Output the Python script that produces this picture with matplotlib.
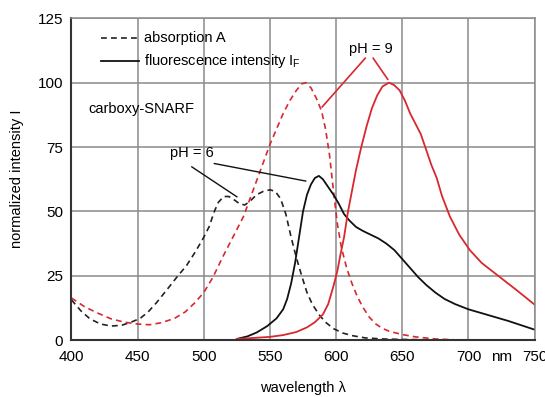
import matplotlib
matplotlib.use("Agg")
import matplotlib.pyplot as plt

plt.rcParams['font.family'] = ['Liberation Sans', 'DejaVu Sans']

RED = "#d8282f"

# absorption, pH 6 (black dashed)
abs6_x = [400, 407, 414, 422, 430, 438, 446, 452, 458, 464, 472, 480, 487, 493, 499,
          504, 508, 511, 515, 519, 523, 527, 531, 535, 540, 545, 550, 554, 558, 562,
          566, 570, 574, 578, 582, 587, 592, 598, 605, 612, 622, 635, 650, 700]
abs6_y = [15.7, 11.5, 8.3, 6.3, 5.5, 5.8, 7.2, 8.5, 11.0, 14.4, 19.5, 24.7, 29.0, 33.8, 39.0,
          44.0, 50.0, 53.5, 55.8, 55.8, 54.5, 53.0, 52.5, 54.0, 56.5, 57.8, 58.4, 57.8, 55.0, 49.0,
          40.0, 32.0, 25.0, 18.5, 14.0, 10.0, 7.0, 4.5, 2.8, 1.8, 0.9, 0.5, 0.3, 0.0]

# absorption, pH 9 (red dashed)
abs9_x = [400, 410, 420, 430, 440, 450, 459, 468, 478, 486, 493, 500, 507, 514, 520,
          525, 530, 535, 540, 545, 550, 555, 560, 565, 570, 574, 577, 581, 585, 589,
          592, 595, 598, 601, 604, 608, 612, 616, 620, 625, 630, 635, 640, 650, 660,
          675, 696]
abs9_y = [16.4, 13.0, 10.5, 8.3, 7.0, 6.3, 6.0, 6.8, 8.5, 11.0, 14.4, 18.5, 24.5, 32.0, 38.0,
          43.0, 48.0, 55.0, 62.0, 69.0, 76.0, 82.0, 88.0, 93.0, 97.0, 99.5, 100.0, 98.0, 94.0, 89.0,
          82.0, 72.0, 58.0, 45.0, 36.0, 28.0, 22.0, 17.0, 13.0, 9.0, 6.3, 4.6, 3.5, 2.2, 1.3,
          0.5, 0.0]

# fluorescence, pH 6 (black solid)
fl6_x = [525, 533, 540, 548, 555, 560, 563, 566, 569, 572, 575, 578, 581, 584, 587,
         590, 594, 598, 602, 606, 610, 615, 620, 626, 632, 638, 644, 650, 656, 662,
         668, 675, 682, 690, 700, 710, 720, 730, 740, 750]
fl6_y = [0.5, 1.5, 3.0, 5.5, 8.5, 12.0, 16.0, 22.0, 30.0, 40.0, 50.0, 56.5, 60.5, 63.0, 63.8,
         62.5, 59.5, 56.5, 53.0, 49.0, 46.5, 44.0, 42.5, 41.0, 39.5, 37.5, 35.0, 31.5, 28.0, 24.5,
         21.5, 18.5, 16.0, 14.0, 12.0, 10.5, 9.0, 7.5, 5.8, 4.1]

# fluorescence, pH 9 (red solid)
fl9_x = [525, 535, 550, 560, 570, 578, 584, 590, 594, 598, 601, 603, 606, 609, 612,
         615, 619, 623, 627, 631, 635, 640, 644, 648, 652, 656, 660, 664, 668, 672,
         676, 680, 686, 693, 701, 710, 720, 736, 750]
fl9_y = [0.5, 0.8, 1.3, 2.0, 3.2, 5.0, 7.0, 10.0, 14.0, 21.0, 27.0, 32.5, 40.0, 50.0, 58.0,
         66.0, 75.0, 83.0, 90.0, 95.0, 98.5, 100.0, 99.0, 97.0, 93.0, 88.0, 84.0, 80.0, 74.0, 68.0,
         63.0, 56.0, 48.0, 41.0, 35.0, 30.0, 26.0, 19.6, 13.8]

x_ticks = [400, 450, 500, 550, 600, 650, 700, 750]
y_ticks = [0, 25, 50, 75, 100, 125]

fig = plt.figure(figsize=(5.45, 3.97), dpi=100)
ax = fig.add_axes([0.131, 0.143, 0.850, 0.811])

dash = (0, (3.5, 2.5))
ax.plot(abs6_x, abs6_y, color="#222222", lw=1.2, linestyle=dash)
ax.plot(abs9_x, abs9_y, color=RED, lw=1.2, linestyle=dash)
ax.plot(fl6_x, fl6_y, color="#111111", lw=1.3)
ax.plot(fl9_x, fl9_y, color=RED, lw=1.3)

ax.set_xlim(400, 750)
ax.set_ylim(0, 125)
ax.set_xticks(x_ticks)
ax.set_yticks(y_ticks)
# "nm" unit sits in the tick row between 700 and 750
ax.set_xticks([725], labels=["nm"], minor=True)
ax.grid(True, which="major", color="#8a8a8a", lw=1.1)
ax.set_axisbelow(True)
ax.tick_params(which="both", length=0, labelsize=11)
ax.tick_params(axis="x", which="both", pad=7)
ax.tick_params(axis="y", pad=6)
for s in ["top", "right"]:
    ax.spines[s].set_color("#8a8a8a")
    ax.spines[s].set_linewidth(1.1)
for s in ["left", "bottom"]:
    ax.spines[s].set_color("#333333")
    ax.spines[s].set_linewidth(1.5)

ax.set_xlabel("wavelength λ", fontsize=10.5, labelpad=12)
ax.set_ylabel("normalized intensity I", fontsize=10.5, labelpad=10)

# legend drawn by hand
ax.plot([422, 451], [117.4, 117.4], color="#222222", lw=1.2, linestyle=dash)
ax.plot([422, 451], [108.6, 108.6], color="#111111", lw=1.3)
ax.text(455, 117.4, "absorption A", va="center", fontsize=10.5)
ax.text(455, 108.6, r"fluorescence intensity I$_\mathregular{F}$", va="center", fontsize=10.5)
ax.text(413, 89.7, "carboxy-SNARF", va="center", fontsize=10.5)

# annotations
ax.text(491, 72.5, "pH = 6", ha="center", va="center", fontsize=10.5)
ax.plot([491, 525], [67.3, 55.7], color="#111111", lw=1.0)
ax.plot([508, 577], [68.6, 61.8], color="#111111", lw=1.0)
ax.text(626, 113, "pH = 9", ha="center", va="center", fontsize=10.5)
ax.plot([622, 589.5], [109.5, 90.6], color=RED, lw=1.2)
ax.plot([628, 639], [109.5, 101.3], color=RED, lw=1.2)

fig.savefig("out.png", dpi=100)
